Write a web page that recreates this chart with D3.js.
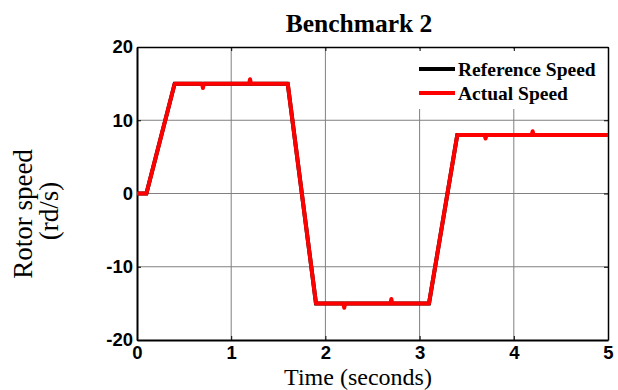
<!DOCTYPE html>
<html>
<head>
<meta charset="utf-8">
<script src="https://cdn.jsdelivr.net/npm/d3@7"></script>
<style>
  body { margin: 0; background: #fff; }
  .tick text { font-family: Arial, "Liberation Sans", sans-serif; font-weight: bold; font-size: 18.5px; fill: #000; }
</style>
</head>
<body>
<svg id="chart" width="618" height="390"></svg>
<script>
// reference speed breakpoints (time in s, speed in rd/s)
var refTime  = [0, 0.1, 0.4, 1.6, 1.9, 3.1, 3.4, 5];
var refSpeed = [0, 0, 15, 15, -15, -15, 8, 8];

// actual speed follows reference with small load blips
var actTime  = [0, 0.1, 0.4, 0.69, 0.7, 0.71, 1.19, 1.2, 1.21, 1.6, 1.9, 2.19, 2.2, 2.21, 2.69, 2.7, 2.71, 3.1, 3.4, 3.69, 3.7, 3.71, 4.19, 4.2, 4.21, 5];
var actSpeed = [0, 0, 15, 15, 14.4, 15, 15, 15.6, 15, 15, -15, -15, -15.6, -15, -15, -14.4, -15, -15, 8, 8, 7.5, 8, 8, 8.5, 8, 8];

var xTicks = [0, 1, 2, 3, 4, 5];
var yTicks = [-20, -10, 0, 10, 20];

var svg = d3.select("#chart");
var m = {left: 137, right: 608, top: 47, bottom: 340};
var serif = "'Liberation Serif', 'Times New Roman', serif";

var x = d3.scaleLinear().domain([0, 5]).range([m.left, m.right]);
var y = d3.scaleLinear().domain([-20, 20]).range([m.bottom, m.top]);

// grid
svg.append("g").selectAll("line").data(xTicks.slice(1, -1)).enter().append("line")
  .attr("x1", d => x(d)).attr("x2", d => x(d))
  .attr("y1", m.top).attr("y2", m.bottom)
  .attr("stroke", "#808080").attr("stroke-width", 1);
svg.append("g").selectAll("line").data(yTicks.slice(1, -1)).enter().append("line")
  .attr("x1", m.left).attr("x2", m.right)
  .attr("y1", d => y(d)).attr("y2", d => y(d))
  .attr("stroke", "#808080").attr("stroke-width", 1);

// legend background hides grid
svg.append("rect")
  .attr("x", 414).attr("y", 49).attr("width", 192).attr("height", 60)
  .attr("fill", "#fff");

// axes (ticks inside), plain hyphen for negatives
var fmt = d => String(d);
svg.append("g")
  .attr("transform", "translate(0," + m.bottom + ")")
  .call(d3.axisBottom(x).tickValues(xTicks).tickFormat(fmt).tickSizeInner(-4).tickSizeOuter(0).tickPadding(5.5))
  .call(g => g.select(".domain").attr("stroke-width", 2));
svg.append("g")
  .attr("transform", "translate(" + m.left + ",0)")
  .call(d3.axisLeft(y).tickValues(yTicks).tickFormat(fmt).tickSizeInner(-4).tickSizeOuter(0).tickPadding(4))
  .call(g => g.select(".domain").attr("stroke-width", 2));
svg.append("g")
  .attr("transform", "translate(0," + m.top + ")")
  .call(d3.axisTop(x).tickValues(xTicks).tickFormat("").tickSizeInner(-4).tickSizeOuter(0))
  .call(g => g.select(".domain").attr("stroke-width", 1.5));
svg.append("g")
  .attr("transform", "translate(" + m.right + ",0)")
  .call(d3.axisRight(y).tickValues(yTicks).tickFormat("").tickSizeInner(-4).tickSizeOuter(0))
  .call(g => g.select(".domain").attr("stroke-width", 1.5));

var line = d3.line().x(d => x(d[0])).y(d => y(d[1]));

svg.append("path")
  .datum(d3.zip(refTime, refSpeed))
  .attr("d", line).attr("fill", "none")
  .attr("stroke", "#000").attr("stroke-width", 4);

svg.append("path")
  .datum(d3.zip(actTime, actSpeed))
  .attr("d", line).attr("fill", "none")
  .attr("stroke", "#ff0000").attr("stroke-width", 4)
  .attr("stroke-linejoin", "round");

// legend
var leg = [["Reference Speed", "#000"], ["Actual Speed", "#ff0000"]];
leg.forEach(function(l, i) {
  var ly = 69 + i * 24;
  svg.append("line").attr("x1", 419).attr("x2", 455).attr("y1", ly).attr("y2", ly)
    .attr("stroke", l[1]).attr("stroke-width", 4);
  svg.append("text").attr("x", 458).attr("y", ly + 7)
    .attr("font-family", serif)
    .attr("font-weight", "bold").attr("font-size", 19.5).text(l[0]);
});

// title and labels
svg.append("text").attr("x", 359).attr("y", 32).attr("text-anchor", "middle")
  .attr("font-family", serif)
  .attr("font-weight", "bold").attr("font-size", 25.5).text("Benchmark 2");

svg.append("text").attr("x", 358).attr("y", 384.5).attr("text-anchor", "middle")
  .attr("font-family", serif)
  .attr("font-size", 24).text("Time (seconds)");

svg.append("text").attr("transform", "translate(32,214) rotate(-90)").attr("text-anchor", "middle")
  .attr("font-family", serif)
  .attr("font-size", 27).text("Rotor speed");
svg.append("text").attr("transform", "translate(58,211) rotate(-90)").attr("text-anchor", "middle")
  .attr("font-family", serif)
  .attr("font-size", 27).text("(rd/s)");
</script>
</body>
</html>
